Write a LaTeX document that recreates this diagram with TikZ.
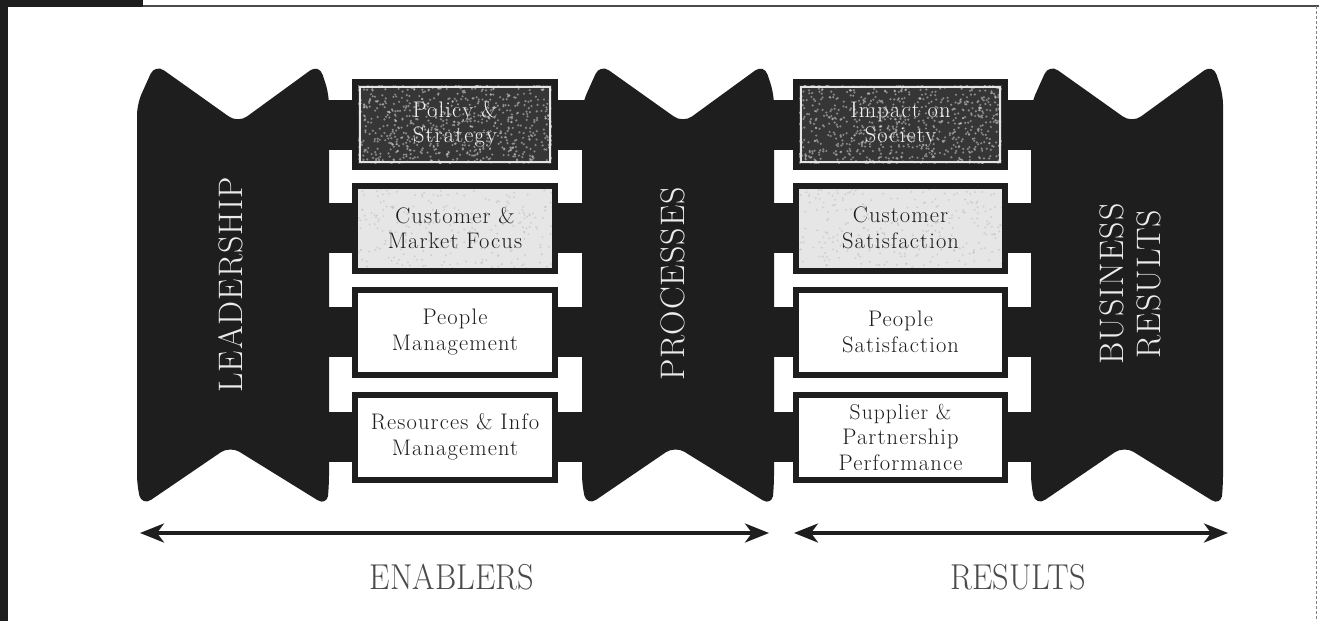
\documentclass[tikz,border=0pt]{standalone}
\usepackage{fontspec}
\setmainfont{Latin Modern Roman}
\usetikzlibrary{arrows.meta,backgrounds}

\definecolor{ink}{HTML}{1E1E1E}
\definecolor{darkfill}{HTML}{363636}
\definecolor{lightfill}{HTML}{E6E6E6}

\newfontfamily\boxface[LetterSpace=5]{Latin Modern Roman}
\newfontfamily\bannerface[LetterSpace=3]{Latin Modern Roman}
\newcommand\boxfont{\boxface\fontsize{22.5}{25.5}\selectfont}
\newcommand\bannerfont{\bannerface\fontsize{34}{37}\selectfont}
\newcommand\labelfont{\fontsize{36}{40}\selectfont}

% random grain inside a box, drawn between its fill and its text
\newcommand\grain[3]{%
  \foreach \i in {1,...,#2}{%
    \pgfmathsetmacro{\dx}{112*rand}%
    \pgfmathsetmacro{\dy}{44*rand}%
    \fill[#1] ([shift={(\dx,\dy)}]path picture bounding box.center) circle (#3);
  }}

% one pillar of the model, drawn from its left edge
\newcommand\pillar[1]{%
  \fill[ink, rounded corners=11pt, shift={(#1,0)}]
    (0,290) -- (0,104) -- (18,64) -- (101,123) -- (182,64) -- (192,94)
    -- (192,486) -- (190,506) -- (93,446) -- (5,506) -- (0,486) -- cycle;}

\tikzset{
  efbox/.style={draw=ink, line width=6pt, minimum height=85pt, align=center,
    inner sep=0pt, font=\boxfont},
  colA/.style={minimum width=200pt},
  colB/.style={minimum width=209pt},
  darkbox/.style={fill=darkfill, text=gray!10,
    path picture={\grain{white!85!black,opacity=.5}{900}{1.2}
      \draw[white!90!black, line width=1.4pt]
        ([shift={(5,5)}]path picture bounding box.north west) rectangle
        ([shift={(-5,-5)}]path picture bounding box.south east);}},
  lightbox/.style={fill=lightfill, text=ink,
    path picture={\grain{gray!55,opacity=.5}{320}{1.1}}},
  plainbox/.style={fill=white, text=ink},
  bantext/.style={text=white!92!black, font=\bannerfont, rotate=90, align=center},
  bar/.style={ink, line width=50pt},
  span/.style={ink, line width=3.5pt,
    {Stealth[length=24pt,width=19pt,inset=7pt]}-{Stealth[length=24pt,width=19pt,inset=7pt]}},
  caption/.style={text=ink!80, font=\labelfont}
}

\begin{document}
\begin{tikzpicture}[x=1pt,y=-1pt]
\pgfmathsetseed{4}
\useasboundingbox (0,0) rectangle (1319,621);

% pillar edges
\coordinate (leadE) at (322,0);
\coordinate (procW) at (590,0);
\coordinate (procE) at (766,0);
\coordinate (busW)  at (1040,0);

% enabler boxes
\node[efbox, colA, darkbox]  (e1) at (455,124.5) {Policy \&\\Strategy};
\node[efbox, colA, lightbox] (e2) at (455,228)   {Customer \&\\Market Focus};
\node[efbox, colA, plainbox] (e3) at (455,332)   {People\\Management};
\node[efbox, colA, plainbox] (e4) at (455,437)   {Resources \& Info\\Management};

% result boxes
\node[efbox, colB, darkbox]  (r1) at (900.5,124.5) {Impact on\\Society};
\node[efbox, colB, lightbox] (r2) at (900.5,228)   {Customer\\Satisfaction};
\node[efbox, colB, plainbox] (r3) at (900.5,332)   {People\\Satisfaction};
\node[efbox, colB, plainbox] (r4) at (900.5,437)
  {\fontsize{21.5}{24.5}\selectfont Supplier \&\\Partnership\\Performance};

% page frame, pillars and the bars that tie the boxes to them
\begin{scope}[on background layer]
  \fill[white] (0,0) rectangle (1319,621);
  \fill[ink] (0,0) rectangle (143,7);
  \fill[ink] (0,0) rectangle (8,621);
  \draw[ink!80, line width=2pt] (143,6) -- (1319,6);
  \draw[gray, line width=1pt, dash pattern=on 3pt off 2pt] (1316,6) -- (1316,621);
  \pillar{137}
  \pillar{582}
  \pillar{1031}
  \foreach \b in {e1,e2,e3,e4}
    \draw[bar] (leadE |- \b.center) -- (procW |- \b.center);
  \foreach \b in {r1,r2,r3,r4}
    \draw[bar] (procE |- \b.center) -- (busW |- \b.center);
\end{scope}

% pillar titles
\node[bantext] (lead) at (231,285) {LEADERSHIP};
\node[bantext] (proc) at (673,284) {PROCESSES};
\node[bantext, execute at begin node={\setlength{\baselineskip}{37pt}}] (bus) at (1130,284) {BUSINESS\\RESULTS};

% spans along the bottom
\coordinate (enA) at (140,533);
\coordinate (enB) at (769,533);
\coordinate (reA) at (794,533);
\coordinate (reB) at (1228,533);
\draw[span] (enA) -- (enB);
\draw[span] (reA) -- (reB);

\node[caption] (enablers) at (452,577) {\scalebox{0.9}[1]{ENABLERS}};
\node[caption] (results)  at (1018,577) {\scalebox{0.9}[1]{RESULTS}};
\end{tikzpicture}
\end{document}
